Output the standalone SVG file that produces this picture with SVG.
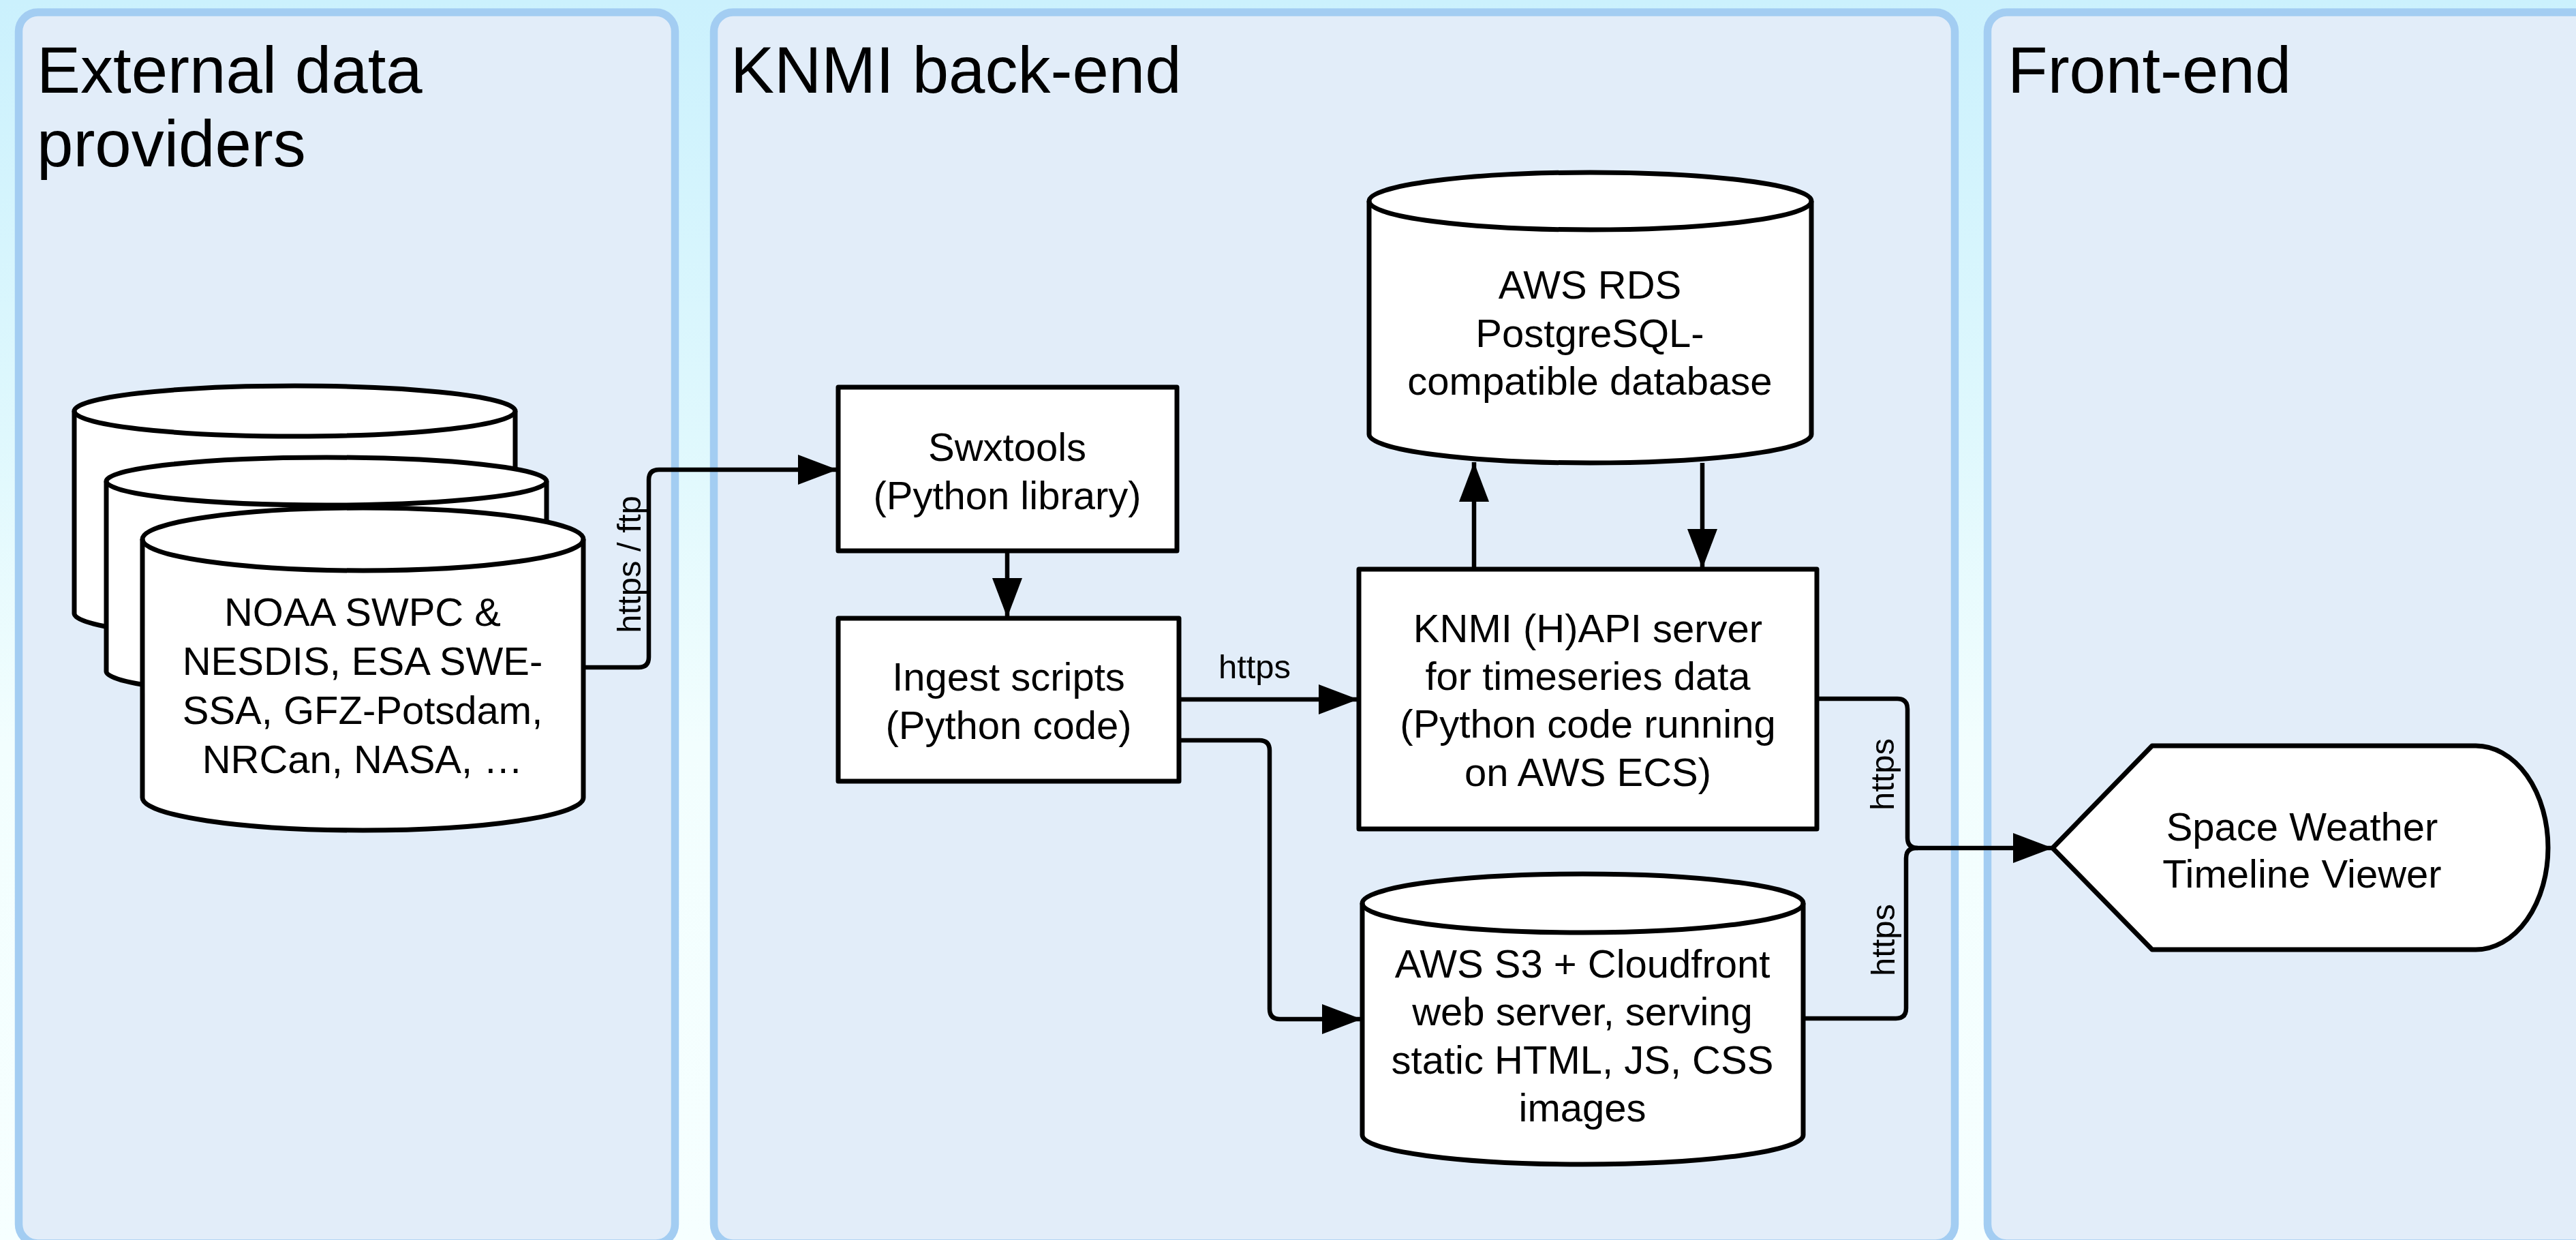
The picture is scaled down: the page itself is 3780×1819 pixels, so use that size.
<svg xmlns="http://www.w3.org/2000/svg" width="3780" height="1819" viewBox="0 0 3780 1819">
<defs>
<linearGradient id="bg" x1="0" y1="0" x2="0" y2="1">
<stop offset="0" stop-color="#cbf1fd"/>
<stop offset="0.35" stop-color="#dff8fd"/>
<stop offset="0.6" stop-color="#f2fefe"/>
<stop offset="1" stop-color="#f6ffff"/>
</linearGradient>
<marker id="ah" markerUnits="userSpaceOnUse" markerWidth="60" markerHeight="46" refX="58" refY="22" orient="auto" viewBox="0 0 60 46">
<path d="M0,0 L58,22 L0,44 Z" fill="#000"/>
</marker>
<style>
.panel{fill:#e2edf9;stroke:#a3cdf2;stroke-width:11.5}
.title{font-family:"Liberation Sans",Arial,Helvetica,sans-serif;font-size:96px;fill:#000}
.node{fill:#fff;stroke:#000;stroke-width:7;stroke-linejoin:round}
.t{font-family:"Liberation Sans",Arial,Helvetica,sans-serif;font-size:58px;fill:#000;text-anchor:middle}
.lbl{font-family:"Liberation Sans",Arial,Helvetica,sans-serif;font-size:49px;fill:#000;text-anchor:middle}
.conn{fill:none;stroke:#000;stroke-width:6.5;stroke-linejoin:round}
.arr{marker-end:url(#ah)}
</style>
</defs>
<rect x="0" y="0" width="3780" height="1819" fill="url(#bg)"/>

<g id="panel-external">
<rect class="panel" x="27.5" y="18" width="963" height="1806" rx="28"/>
<text class="title" x="54" y="136">External data</text>
<text class="title" x="54" y="244">providers</text>
</g>
<g id="panel-backend">
<rect class="panel" x="1047.5" y="18" width="1821" height="1806" rx="28"/>
<text class="title" x="1072" y="136">KNMI back-end</text>
</g>
<g id="panel-frontend">
<rect class="panel" x="2916.5" y="18" width="960" height="1806" rx="28"/>
<text class="title" x="2946" y="136">Front-end</text>
</g>

<g id="providers">
<path class="node" d="M109 603 A323.5 37 0 0 1 756 603 V900 A323.5 37 0 0 1 109 900 Z"/>
<path class="node" style="fill:none" d="M109 603 A323.5 37 0 0 0 756 603"/>
<path class="node" d="M156 706 A323 35 0 0 1 802 706 V985 A323 35 0 0 1 156 985 Z"/>
<path class="node" style="fill:none" d="M156 706 A323 35 0 0 0 802 706"/>
<path class="node" d="M209 791 A323.5 46 0 0 1 856 791 V1170 A323.5 48 0 0 1 209 1170 Z"/>
<path class="node" style="fill:none" d="M209 791 A323.5 46 0 0 0 856 791"/>
<text class="t" x="532" y="918">NOAA SWPC &amp;</text>
<text class="t" x="532" y="990">NESDIS, ESA SWE-</text>
<text class="t" x="532" y="1062">SSA, GFZ-Potsdam,</text>
<text class="t" x="532" y="1134">NRCan, NASA, …</text>
</g>

<g id="swxtools">
<rect class="node" x="1230" y="568" width="497" height="240"/>
<text class="t" x="1478" y="676">Swxtools</text>
<text class="t" x="1478" y="747">(Python library)</text>
</g>

<g id="ingest">
<rect class="node" x="1230" y="907" width="500" height="239"/>
<text class="t" x="1480" y="1013">Ingest scripts</text>
<text class="t" x="1480" y="1084">(Python code)</text>
</g>

<g id="rds">
<path class="node" d="M2009 295 A324.5 42 0 0 1 2658 295 V637 A324.5 42 0 0 1 2009 637 Z"/>
<path class="node" style="fill:none" d="M2009 295 A324.5 42 0 0 0 2658 295"/>
<text class="t" x="2333" y="438">AWS RDS</text>
<text class="t" x="2333" y="509">PostgreSQL-</text>
<text class="t" x="2333" y="579">compatible database</text>
</g>

<g id="api">
<rect class="node" x="1994" y="835" width="672" height="381"/>
<text class="t" x="2330" y="942">KNMI (H)API server</text>
<text class="t" x="2330" y="1012">for timeseries data</text>
<text class="t" x="2330" y="1082">(Python code running</text>
<text class="t" x="2330" y="1153">on AWS ECS)</text>
</g>

<g id="s3">
<path class="node" d="M1999 1325 A323.5 43 0 0 1 2646 1325 V1665 A323.5 43 0 0 1 1999 1665 Z"/>
<path class="node" style="fill:none" d="M1999 1325 A323.5 43 0 0 0 2646 1325"/>
<text class="t" x="2322" y="1434">AWS S3 + Cloudfront</text>
<text class="t" x="2322" y="1504">web server, serving</text>
<text class="t" x="2322" y="1575">static HTML, JS, CSS</text>
<text class="t" x="2322" y="1645">images</text>
</g>

<g id="viewer">
<path class="node" d="M3012 1244 L3158 1094 H3633 A106 149.5 0 0 1 3633 1393 H3158 Z"/>
<text class="t" x="3378" y="1233">Space Weather</text>
<text class="t" x="3378" y="1302">Timeline Viewer</text>
</g>

<g id="connectors">
<path class="conn arr" d="M856 979 H937 Q952 979 952 964 V704 Q952 689 967 689 H1229"/>
<path class="conn arr" d="M1478 808 V906"/>
<path class="conn arr" d="M1730 1026 H1993"/>
<path class="conn arr" d="M1730 1086 H1848 Q1863 1086 1863 1101 V1480 Q1863 1495 1878 1495 H1998"/>
<path class="conn arr" d="M2163 835 V678"/>
<path class="conn arr" d="M2498 679 V834"/>
<path class="conn" d="M2666 1025 H2784 Q2799 1025 2799 1040 V1229 Q2799 1244 2814 1244"/>
<path class="conn arr" d="M2646 1494 H2782 Q2797 1494 2797 1479 V1259 Q2797 1244 2812 1244 H3012"/>
<text class="lbl" transform="translate(940 828) rotate(-90)">https / ftp</text>
<text class="lbl" x="1841" y="995">https</text>
<text class="lbl" transform="translate(2779 1136) rotate(-90)">https</text>
<text class="lbl" transform="translate(2780 1379) rotate(-90)">https</text>
</g>
</svg>
